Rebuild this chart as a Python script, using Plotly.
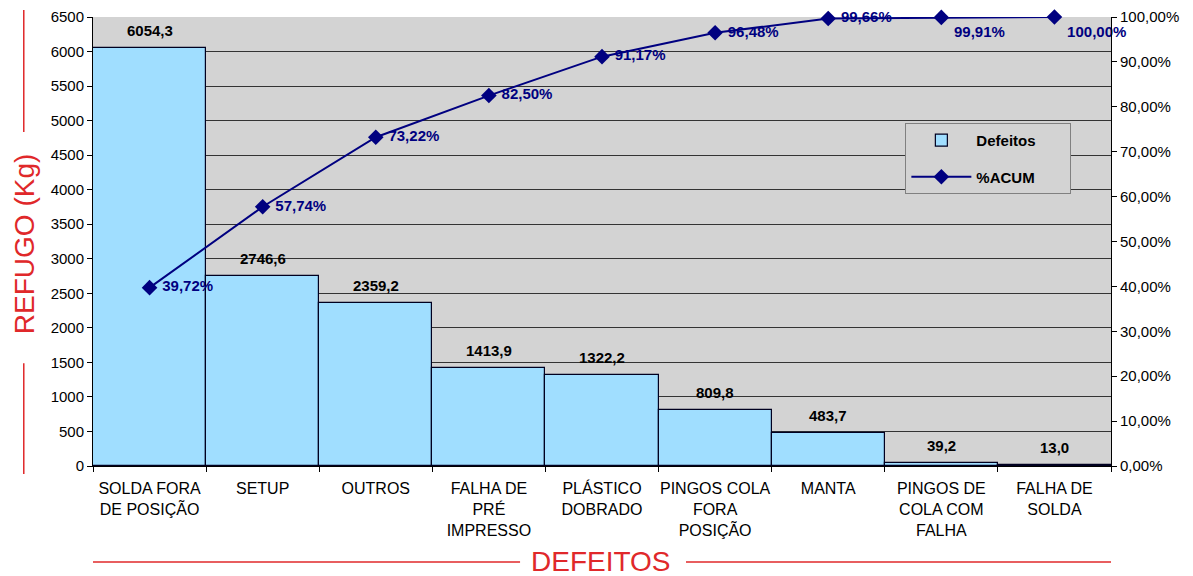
import plotly.graph_objects as go

categorias = ["SOLDA FORA<br>DE POSIÇÃO", "SETUP", "OUTROS", "FALHA DE<br>PRÉ<br>IMPRESSO",
              "PLÁSTICO<br>DOBRADO", "PINGOS COLA<br>FORA<br>POSIÇÃO", "MANTA",
              "PINGOS DE<br>COLA COM<br>FALHA", "FALHA DE<br>SOLDA"]
defeitos = [6054.3, 2746.6, 2359.2, 1413.9, 1322.2, 809.8, 483.7, 39.2, 13.0]
acum = [39.72, 57.74, 73.22, 82.50, 91.17, 96.48, 99.66, 99.91, 100.00]
left_ticks = list(range(0, 6501, 500))
right_ticks = list(range(0, 101, 10))

def br(v, d):
    return f"{v:.{d}f}".replace(".", ",")

RED = "#E0282A"
NAVY = "#000080"
FONT = "Liberation Sans, Arial, sans-serif"
PAD = "\u00a0" * 7

fig = go.Figure()
fig.add_trace(go.Bar(
    x=categorias, y=defeitos, name="Defeitos" + PAD, legendgroup="a",
    marker=dict(color="#A0DEFF", line=dict(color="#000020", width=1.2)),
    width=1.0,
))
fig.add_trace(go.Scatter(
    x=categorias, y=acum, name="%ACUM" + PAD, yaxis="y2", legendgroup="b",
    mode="lines+markers+text",
    line=dict(color=NAVY, width=2),
    marker=dict(symbol="diamond", size=12, color=NAVY),
    text=[" " + br(v, 2) + "%" for v in acum],
    textposition=["middle right"] * 7 + ["bottom right", "bottom right"],
    textfont=dict(family=FONT, size=15, color=NAVY, weight="bold"),
    cliponaxis=False,
))

for c, v in zip(categorias, defeitos):
    fig.add_annotation(x=c, y=v, text="<b>" + br(v, 1) + "</b>", showarrow=False,
                       yanchor="bottom", yshift=7,
                       font=dict(family=FONT, size=15, color="black"))

# red decorative lines around axis titles
line_style = dict(color=RED, width=1.5)
fig.add_shape(type="line", xref="paper", yref="paper", x0=-0.068, x1=-0.068, y0=1.0156, y1=0.744, line=line_style)
fig.add_shape(type="line", xref="paper", yref="paper", x0=-0.068, x1=-0.068, y0=0.229, y1=-0.018, line=line_style)
fig.add_shape(type="line", xref="paper", yref="paper", x0=0.0, x1=0.4195, y0=-0.2138, y1=-0.2138, line=line_style)
fig.add_shape(type="line", xref="paper", yref="paper", x0=0.5825, x1=1.0, y0=-0.2138, y1=-0.2138, line=line_style)

fig.update_layout(
    width=1193, height=576,
    margin=dict(l=93, r=82, t=17, b=110, autoexpand=False),
    paper_bgcolor="white", plot_bgcolor="#D3D3D3",
    bargap=0,
    font=dict(family=FONT, size=15, color="black"),
    showlegend=True,
    legend=dict(x=0.798, y=0.764, xanchor="left", yanchor="top",
                bgcolor="#D3D3D3", bordercolor="#808080", borderwidth=1,
                font=dict(family=FONT, size=15, color="black", weight="bold"),
                itemwidth=60, tracegroupgap=14),
    xaxis=dict(
        tickson="boundaries", ticks="outside", ticklen=5, tickcolor="black",
        showline=True, linecolor="black", linewidth=1,
        showgrid=False, tickfont=dict(size=16), tickangle=0, automargin=False,
        ticklabelstandoff=8,
        range=[-0.5, 8.5],
    ),
    yaxis=dict(
        range=[0, 6500], tickvals=left_ticks, ticktext=[str(t) for t in left_ticks],
        ticks="outside", ticklen=5, tickcolor="black",
        showline=True, linecolor="black", linewidth=1, automargin=False,
        showgrid=True, gridcolor="#333333", gridwidth=1,
        zeroline=False, tickfont=dict(size=15),
    ),
    yaxis2=dict(
        range=[0, 100], overlaying="y", side="right",
        tickvals=right_ticks, ticktext=[br(t, 2) + "%" for t in right_ticks],
        ticks="outside", ticklen=5, tickcolor="black", automargin=False,
        showline=True, linecolor="black", linewidth=1,
        showgrid=False, zeroline=False, tickfont=dict(size=15),
    ),
)

fig.add_annotation(xref="paper", yref="paper", x=-0.0678, y=0.494, text="REFUGO (Kg)",
                   textangle=-90, showarrow=False, xanchor="center", yanchor="middle",
                   font=dict(family=FONT, size=28, color=RED))
fig.add_annotation(xref="paper", yref="paper", x=0.499, y=-0.2138, text="DEFEITOS",
                   showarrow=False, xanchor="center", yanchor="middle",
                   font=dict(family=FONT, size=28, color=RED))

fig.write_html("out.html", config={"displayModeBar": False},
               post_script="document.body.style.margin='0';")
